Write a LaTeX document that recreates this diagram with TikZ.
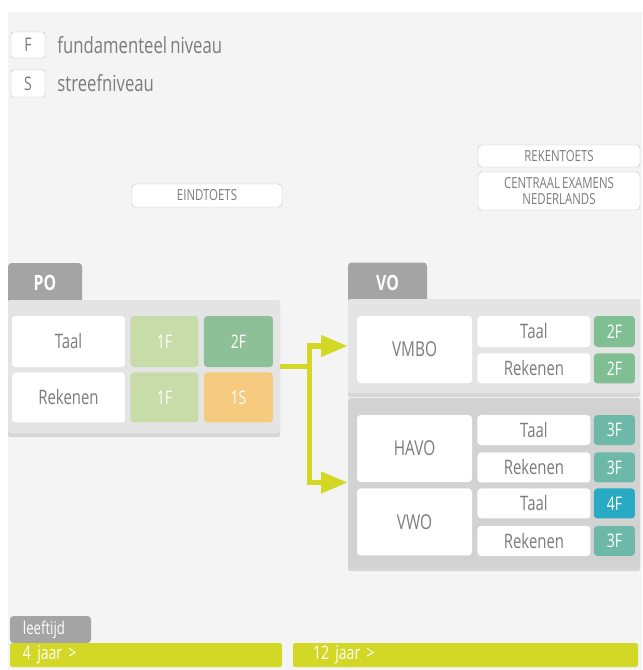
\documentclass[tikz,border=0pt]{standalone}
\usepackage{fontspec}
\setmainfont[FakeStretch=0.75,WordSpace=0.75]{Open Sans}
\usetikzlibrary{positioning,arrows.meta,shadows}
\definecolor{bggray}{HTML}{F4F4F4}
\definecolor{panelgray}{HTML}{E4E4E4}
\definecolor{panelgraydark}{HTML}{D2D2D2}
\definecolor{tabgray}{HTML}{A4A4A4}
\definecolor{txtgray}{HTML}{7C7C7C}
\definecolor{linegray}{HTML}{C4C4C4}
\definecolor{lvlone}{HTML}{C7DCA9}
\definecolor{lvltwo}{HTML}{8DC097}
\definecolor{lvltwovo}{HTML}{80BE94}
\definecolor{lvlstreef}{HTML}{F6CB80}
\definecolor{lvlthree}{HTML}{6CB9A7}
\definecolor{lvlfour}{HTML}{28AAC5}
\definecolor{lime}{HTML}{D2D825}

\begin{document}
\begin{tikzpicture}[x=0.03cm,y=-0.03cm,
  sz/.style 2 args={minimum width=#1*0.03cm,minimum height=#2*0.03cm},
  legendbox/.style={draw=linegray,fill=white,rounded corners=2pt,inner sep=0pt,text=txtgray,font=\fontsize{16}{18}\selectfont},
  legendtext/.style={inner sep=0pt,text=txtgray,font=\fontsize{19}{21}\selectfont},
  toets/.style={draw=linegray,fill=white,rounded corners=3pt,inner sep=0pt,align=center,text=txtgray,font=\fontsize{13}{13}\selectfont},
  tab/.style={fill=tabgray,rounded corners=3pt,inner sep=0pt,text=white,font=\fontsize{18}{20}\selectfont\bfseries},
  panel/.style={fill=panelgray,rounded corners=2pt,inner sep=0pt,drop shadow={opacity=.25,shadow xshift=0pt,shadow yshift=-3.5pt}},
  cell/.style={fill=white,rounded corners=3pt,inner sep=0pt,text=txtgray,font=\fontsize{17}{19}\selectfont},
  subcell/.style={cell},
  school/.style={cell,font=\fontsize{17.5}{19}\selectfont},
  level/.style={rounded corners=3pt,inner sep=0pt,text=white,font=\fontsize{16}{18}\selectfont},
  feed/.style={draw=lime,line width=4.3pt},
  bar/.style={fill=lime,rounded corners=2pt,inner ysep=0pt,align=left,text=white,font=\fontsize{16}{18}\selectfont}]

% achtergrond
\useasboundingbox (0,0) rectangle (642,670);
\fill[white] (0,0) rectangle (642,670);
\fill[bggray] (8,12) rectangle (642,670);

% legenda
\node[legendbox,sz={34}{26}] (fbox) at (28,45) {F};
\node[legendtext,right=0.36cm of fbox] (ftext) {fundamenteel niveau};
\node[legendbox,sz={34}{27}] (sbox) at (28,83.5) {S};
\node[legendtext,right=0.36cm of sbox] (stext) {streefniveau};

% toetsen
\node[toets,sz={150}{23}] (eind) at (207,195.5) {EINDTOETS};
\node[toets,sz={162}{22}] (reken) at (559,156) {REKENTOETS};
\node[toets,sz={162}{38}] (cex) at (559,191) {CENTRAAL EXAMENS\\NEDERLANDS};

% PO
\node[tab,sz={74}{40}] (potab) at (45,283) {PO};
\node[panel,sz={272}{133}] (po) at (144,366.5) {};
\node[cell,sz={113}{51}] (pt) at (68.5,341.5) {Taal};
\node[cell,sz={113}{50},below=0.15cm of pt] (pr) {Rekenen};
\node[level,fill=lvlone,sz={68}{51},right=0.15cm of pt] (pt1) {1F};
\node[level,fill=lvltwo,sz={69}{51},right=0.15cm of pt1] (pt2) {2F};
\node[level,fill=lvlone,sz={68}{50},right=0.15cm of pr] (pr1) {1F};
\node[level,fill=lvlstreef,sz={69}{50},right=0.15cm of pr1] (pr2) {1S};

% VO
\node[tab,sz={79}{40}] (votab) at (387.5,282.5) {VO};
\node[panel,sz={292}{94}] (vo1) at (494,346) {};
\node[panel,fill=panelgraydark,sz={292}{169}] (vo2) at (494,482.5) {};

\node[school,sz={115}{67}] (vmbo) at (414.5,349.5) {VMBO};
\node[subcell,sz={113}{31},below right=0cm and 0.15cm of vmbo.north east] (vmt) {Taal};
\node[subcell,sz={113}{30},below=0.18cm of vmt] (vmr) {Rekenen};
\node[level,fill=lvltwovo,sz={41}{31},right=0.09cm of vmt] (vmt2) {2F};
\node[level,fill=lvltwovo,sz={41}{30},right=0.09cm of vmr] (vmr2) {2F};

\node[school,sz={115}{67}] (havo) at (414.5,448.5) {HAVO};
\node[subcell,sz={113}{30},below right=0cm and 0.15cm of havo.north east] (hat) {Taal};
\node[subcell,sz={113}{30},below=0.21cm of hat] (har) {Rekenen};
\node[level,fill=lvlthree,sz={41}{30},right=0.09cm of hat] (hat3) {3F};
\node[level,fill=lvlthree,sz={41}{30},right=0.09cm of har] (har3) {3F};

\node[school,sz={115}{67},below=0.18cm of havo] (vwo) {VWO};
\node[subcell,sz={113}{30},below right=0cm and 0.15cm of vwo.north east] (vwt) {Taal};
\node[subcell,sz={113}{30},below=0.21cm of vwt] (vwr) {Rekenen};
\node[level,fill=lvlfour,sz={41}{30},right=0.09cm of vwt] (vwt4) {4F};
\node[level,fill=lvlthree,sz={41}{30},right=0.09cm of vwr] (vwr3) {3F};

% doorstroom
\coordinate[right=0.87cm of po.east] (split);
\draw[feed] (po.east) -- (split);
\draw[feed,line join=miter,-{Triangle[length=0.8cm,width=0.62cm]}] (split) |- (vo1.west);
\draw[feed,line join=miter,-{Triangle[length=0.8cm,width=0.62cm]}] (split) |- (vo2.west);

% leeftijd
\node[tab,font=\fontsize{15}{17}\selectfont,sz={81}{27},inner xsep=13*0.03cm,text width=55*0.03cm,align=left] (lftab) at (50.5,629.5) {leeftijd};
\node[bar,sz={272}{24},inner xsep=13*0.03cm,text width=246*0.03cm] (bar1) at (146,655) {4 jaar >};
\node[bar,sz={345}{24},inner xsep=20*0.03cm,text width=305*0.03cm] (bar2) at (465.5,655) {12 jaar >};

\end{tikzpicture}
\end{document}
